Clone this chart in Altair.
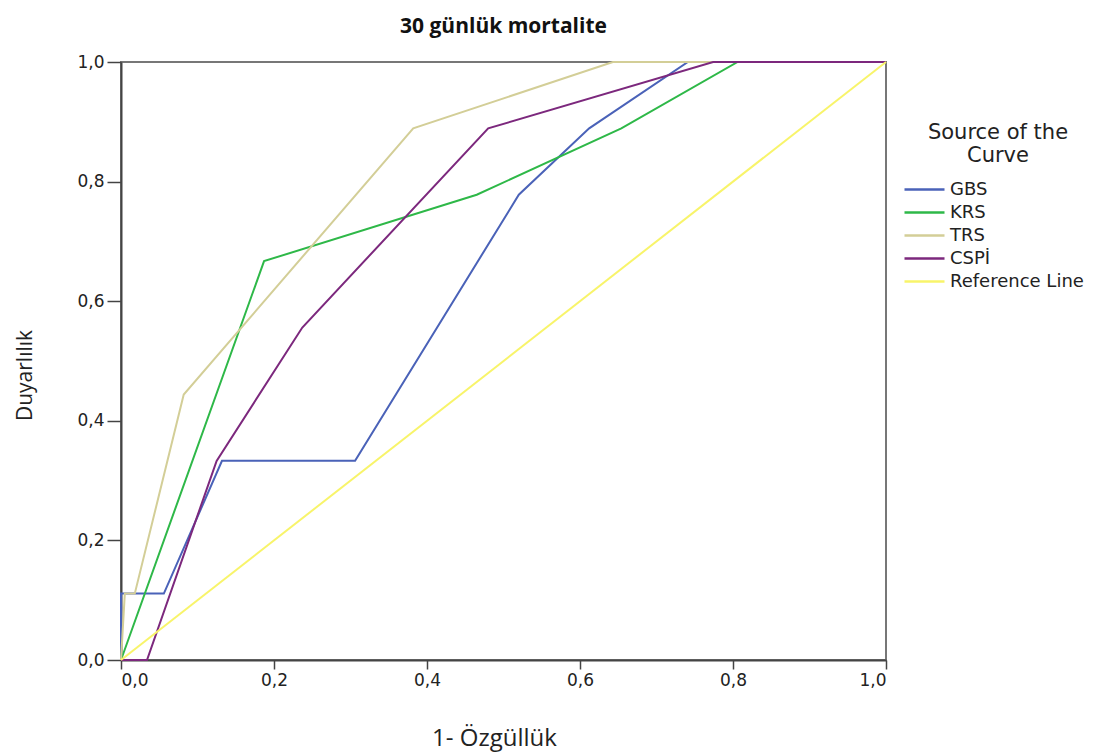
import altair as alt
import pandas as pd

series_names = ["GBS", "KRS", "TRS", "CSPİ", "Reference Line"]
colors = ["#4A62B8", "#2EB848", "#D3CE97", "#7C287D", "#F8F46A"]

gbs_x = [0.0, 0.0, 0.056, 0.132, 0.306, 0.52, 0.612, 0.741, 1.0]
gbs_y = [0.0, 0.111, 0.111, 0.333, 0.333, 0.778, 0.889, 1.0, 1.0]

krs_x = [0.0, 0.187, 0.465, 0.654, 0.806, 1.0]
krs_y = [0.0, 0.667, 0.778, 0.889, 1.0, 1.0]

trs_x = [0.0, 0.005, 0.018, 0.082, 0.382, 0.643, 1.0]
trs_y = [0.0, 0.111, 0.111, 0.444, 0.889, 1.0, 1.0]

csp_x = [0.0, 0.034, 0.125, 0.237, 0.48, 0.774, 1.0]
csp_y = [0.0, 0.0, 0.333, 0.556, 0.889, 1.0, 1.0]

ref_x = [0.0, 1.0]
ref_y = [0.0, 1.0]

rows = []
for name, xs, ys in zip(series_names,
                        [gbs_x, krs_x, trs_x, csp_x, ref_x],
                        [gbs_y, krs_y, trs_y, csp_y, ref_y]):
    for i, (a, b) in enumerate(zip(xs, ys)):
        rows.append({"series": name, "x": a, "y": b, "order": i})
df = pd.DataFrame(rows)

label_expr = "replace(format(datum.value, '.1f'), '.', ',')"
tick_vals = [0, 0.2, 0.4, 0.6, 0.8, 1.0]

chart = alt.Chart(df).mark_line(strokeWidth=2).encode(
    x=alt.X("x:Q", scale=alt.Scale(domain=[0, 1], nice=False),
            axis=alt.Axis(title="1- Özgüllük", values=tick_vals,
                          labelExpr=label_expr, grid=False, tickSize=9,
                          titleFontSize=24,
                          titleX=373, titleY=78, titleBaseline="middle")),
    y=alt.Y("y:Q", scale=alt.Scale(domain=[0, 1], nice=False),
            axis=alt.Axis(title="Duyarlılık", values=tick_vals,
                          labelExpr=label_expr, grid=False, tickSize=14,
                          titleFontSize=21,
                          titleX=-96, titleY=313, titleAngle=-90,
                          titleAlign="center", titleBaseline="middle")),
    color=alt.Color("series:N", scale=alt.Scale(domain=series_names, range=colors),
                    legend=alt.Legend(title=["Source of the", "Curve"], orient="none",
                                      legendX=792, legendY=60,
                                      symbolType="M-2,0H2", symbolSize=400,
                                      symbolStrokeWidth=2.5, labelOffset=14,
                                      titleAnchor="middle", titleAlign="center",
                                      titleFont="DejaVu Sans", titleFontSize=21,
                                      titleFontWeight="normal", titleColor="#222",
                                      titleLineHeight=23, titlePadding=12,
                                      labelFont="DejaVu Sans", labelFontSize=18,
                                      labelColor="#222", rowPadding=2, labelLimit=300)),
    order="order:Q",
).properties(
    width=765, height=598,
    title=alt.TitleParams("30 günlük mortalite", font="Open Sans", fontSize=21,
                          fontWeight="bold", anchor="middle", offset=16, color="#111"),
    autosize=alt.AutoSizeParams(type="none"),
    padding={"left": 113, "top": 54, "right": 222, "bottom": 100},
).configure_view(
    stroke="#777", strokeWidth=2
).configure_axis(
    labelFont="DejaVu Sans", labelFontSize=17, labelColor="#222",
    titleFont="Open Sans", titleFontWeight="normal", titleColor="#222",
    domainColor="#444", domainWidth=2, tickColor="#444", tickWidth=1.5, labelPadding=3
)

chart.save("out.html", embed_options={"renderer": "svg", "actions": False})
